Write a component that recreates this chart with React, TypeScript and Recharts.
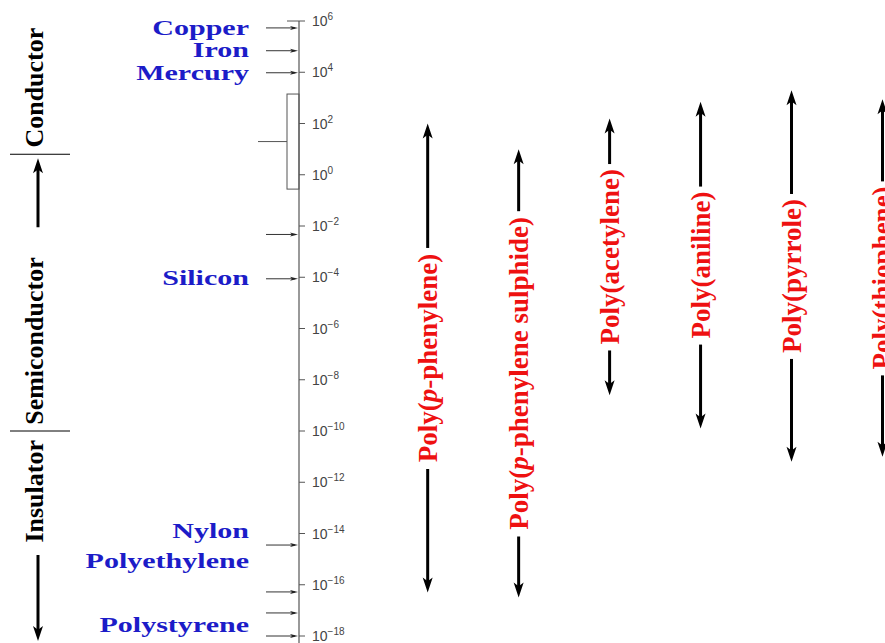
import { ComposedChart, Bar, XAxis, YAxis, ReferenceLine, ReferenceArea } from "recharts";

// conductivity scale, log10(S/cm)
const AXIS_TICKS = [6, 4, 2, 0, -2, -4, -6, -8, -10, -12, -14, -16, -18];

const POLYMERS = [
  "Poly(p-phenylene)",
  "Poly(p-phenylene sulphide)",
  "Poly(acetylene)",
  "Poly(aniline)",
  "Poly(pyrrole)",
  "Poly(thiophene)",
];
const POLY_LOW = [-16.3, -16.5, -8.6, -9.9, -11.2, -11.0];
const POLY_HIGH = [2.0, 1.0, 2.2, 2.85, 3.3, 2.95];

const MATERIALS = ["Copper", "Iron", "Mercury", "Silicon", "Nylon", "Polyethylene", "Polystyrene"];
const MATERIAL_LOG = [5.73, 4.87, 3.95, -4.03, -13.9, -15.07, -17.57];

// little arrows pointing at the axis
const MARKER_LOG = [5.73, 4.84, 3.98, -2.33, -4.06, -14.45, -16.28, -17.1, -18];

// the open bracket next to the axis
const BRACKET = [-0.56, 3.15];

const REGION_NAMES = ["Conductor", "Semiconductor", "Insulator"];
const REGION_BOUNDS = [6, 0.8, -10, -18];

const SERIF = "'Liberation Serif', 'Times New Roman', serif";
const SANS = "'Liberation Sans', Arial, sans-serif";
const BLUE = "#1c1cc8";
const RED = "#ee1111";
const AXIS = "#555";

const data = POLYMERS.map((name, i) => ({ name, pos: i, range: [POLY_LOW[i], POLY_HIGH[i]] }));

let ctx: CanvasRenderingContext2D | null = null;
function textWidth(s: string, font: string) {
  if (!ctx) ctx = document.createElement("canvas").getContext("2d");
  if (!ctx) return s.length * 12;
  ctx.font = font;
  return ctx.measureText(s).width;
}

function Head({ x, y, dx, dy, w, l, fill = "#000" }: any) {
  const bx = x - dx * l;
  const by = y - dy * l;
  const nx = -dy;
  const ny = dx;
  const n = l * 0.75;
  const pts = [
    [x, y],
    [bx + (nx * w) / 2, by + (ny * w) / 2],
    [x - dx * n, y - dy * n],
    [bx - (nx * w) / 2, by - (ny * w) / 2],
  ];
  return <polygon points={pts.map((p) => p.join(",")).join(" ")} fill={fill} />;
}

function PolyLabel({ name }: { name: string }) {
  const m = name.match(/^(Poly\()p(-.*)$/);
  if (!m) return <>{name}</>;
  return (
    <>
      <tspan>{m[1]}</tspan>
      <tspan fontStyle="italic">p</tspan>
      <tspan>{m[2]}</tspan>
    </>
  );
}

const POLY_FONT = 27;

const PolymerArrow = (p: any) => {
  const { x, y, width, height, payload } = p;
  const cx = x + width / 2;
  const top = y;
  const bottom = y + height;
  const mid = (top + bottom) / 2;
  const half = textWidth(payload.name, `bold ${POLY_FONT}px ${SERIF}`) / 2;
  return (
    <g>
      <line x1={cx} y1={top + 10} x2={cx} y2={mid - half - 5} stroke="#000" strokeWidth={3} />
      <line x1={cx} y1={mid + half + 6} x2={cx} y2={bottom - 10} stroke="#000" strokeWidth={3} />
      <Head x={cx} y={top} dx={0} dy={-1} w={10} l={15} />
      <Head x={cx} y={bottom} dx={0} dy={1} w={10} l={15} />
      <text
        transform={`translate(${cx},${mid}) rotate(-90)`}
        textAnchor="middle"
        dominantBaseline="central"
        fill={RED}
        fontFamily={SERIF}
        fontWeight="bold"
        fontSize={POLY_FONT}
      >
        <PolyLabel name={payload.name} />
      </text>
    </g>
  );
};

const PowerTick = ({ x, y, payload }: any) => {
  const v = payload.value;
  const exp = v < 0 ? `\u2212${-v}` : `${v}`;
  return (
    <text x={x} y={y} dy={5} fill="#444" fontFamily={SANS} fontSize={14}>
      10
      <tspan dy={-6} fontSize={10}>
        {exp}
      </tspan>
    </text>
  );
};

const MarkerArrow = (p: any) => (
  <g>
    <line x1={p.x1 - 33} y1={p.y1} x2={p.x1 - 4} y2={p.y1} stroke="#333" strokeWidth={1} />
    <Head x={p.x1 - 1} y={p.y1} dx={1} dy={0} w={4} l={8} fill="#222" />
  </g>
);

const MaterialLabel = (p: any) => (
  <text
    transform={`translate(${p.x1 - 50},${p.y1}) scale(1.43,1)`}
    textAnchor="end"
    dominantBaseline="central"
    fill={BLUE}
    fontFamily={SERIF}
    fontWeight="bold"
    fontSize={21}
  >
    {p.label}
  </text>
);

const BracketShape = (p: any) => (
  <g>
    <rect x={p.x - 12} y={p.y} width={12} height={p.height} fill="none" stroke={AXIS} strokeWidth={1} />
    <line x1={p.x - 41} y1={p.y + p.height / 2} x2={p.x - 12} y2={p.y + p.height / 2} stroke={AXIS} strokeWidth={1} />
  </g>
);

const RegionText = ({ y, anchor, children }: any) => (
  <text
    transform={`translate(34,${y}) rotate(-90)`}
    textAnchor={anchor}
    dominantBaseline="central"
    fill="#000"
    fontFamily={SERIF}
    fontWeight="bold"
    fontSize={26}
  >
    {children}
  </text>
);

const RegionShape = (p: any) => {
  const { index, name, x, y, height } = p;
  const bottom = y + height;
  const divider = index < 2 ? <line x1={10} y1={bottom} x2={70} y2={bottom} stroke="#000" strokeWidth={1} /> : null;
  if (index === 0) {
    return (
      <g>
        <RegionText y={y + height / 2} anchor="middle">{name}</RegionText>
        {divider}
      </g>
    );
  }
  if (index === 1) {
    return (
      <g>
        <line x1={38} y1={y + 73} x2={38} y2={y + 14} stroke="#000" strokeWidth={3} />
        <Head x={38} y={y + 4} dx={0} dy={-1} w={10} l={15} />
        <RegionText y={y + 103} anchor="end">{name}</RegionText>
        {divider}
      </g>
    );
  }
  return (
    <g>
      <RegionText y={y + 9} anchor="end">{name}</RegionText>
      <line x1={38} y1={y + 124} x2={38} y2={bottom - 5} stroke="#000" strokeWidth={3} />
      <Head x={38} y={bottom + 5} dx={0} dy={1} w={10} l={15} />
      <line x1={x} y1={bottom} x2={x} y2={bottom + 8} stroke={AXIS} strokeWidth={1.2} />
    </g>
  );
};

export default function App() {
  return (
    <div
      style={{
        position: "absolute",
        left: 0,
        top: 0,
        width: 885,
        height: 643,
        overflow: "hidden",
        background: "#fff",
      }}
    >
      <ComposedChart width={943} height={643} data={data} margin={{ top: 21, right: 0, bottom: 7, left: 299 }}>
        <XAxis type="number" dataKey="pos" domain={[-1.42, 5.66]} hide />
        <YAxis
          type="number"
          domain={[-18, 6]}
          ticks={AXIS_TICKS}
          interval={0}
          orientation="left"
          mirror
          tickSize={6}
          tickMargin={7}
          axisLine={{ stroke: AXIS, strokeWidth: 1.2 }}
          tickLine={{ stroke: AXIS, strokeWidth: 1 }}
          tick={(p: any) => <PowerTick {...p} />}
        />
        <ReferenceLine
          y={AXIS_TICKS[0]}
          shape={(p: any) => <line x1={p.x1 - 12} y1={p.y1} x2={p.x1} y2={p.y1} stroke={AXIS} strokeWidth={1} />}
        />
        <ReferenceArea y1={BRACKET[0]} y2={BRACKET[1]} shape={(p: any) => <BracketShape {...p} />} />
        {REGION_NAMES.map((name, i) => (
          <ReferenceArea
            key={name}
            y1={REGION_BOUNDS[i + 1]}
            y2={REGION_BOUNDS[i]}
            shape={(p: any) => <RegionShape {...p} index={i} name={name} />}
          />
        ))}
        {MARKER_LOG.map((v, i) => (
          <ReferenceLine key={`m${i}`} y={v} shape={(p: any) => <MarkerArrow {...p} />} />
        ))}
        {MATERIALS.map((m, i) => (
          <ReferenceLine key={m} y={MATERIAL_LOG[i]} shape={(p: any) => <MaterialLabel {...p} label={m} />} />
        ))}
        <Bar dataKey="range" barSize={24} isAnimationActive={false} shape={(p: any) => <PolymerArrow {...p} />} />
      </ComposedChart>
    </div>
  );
}
